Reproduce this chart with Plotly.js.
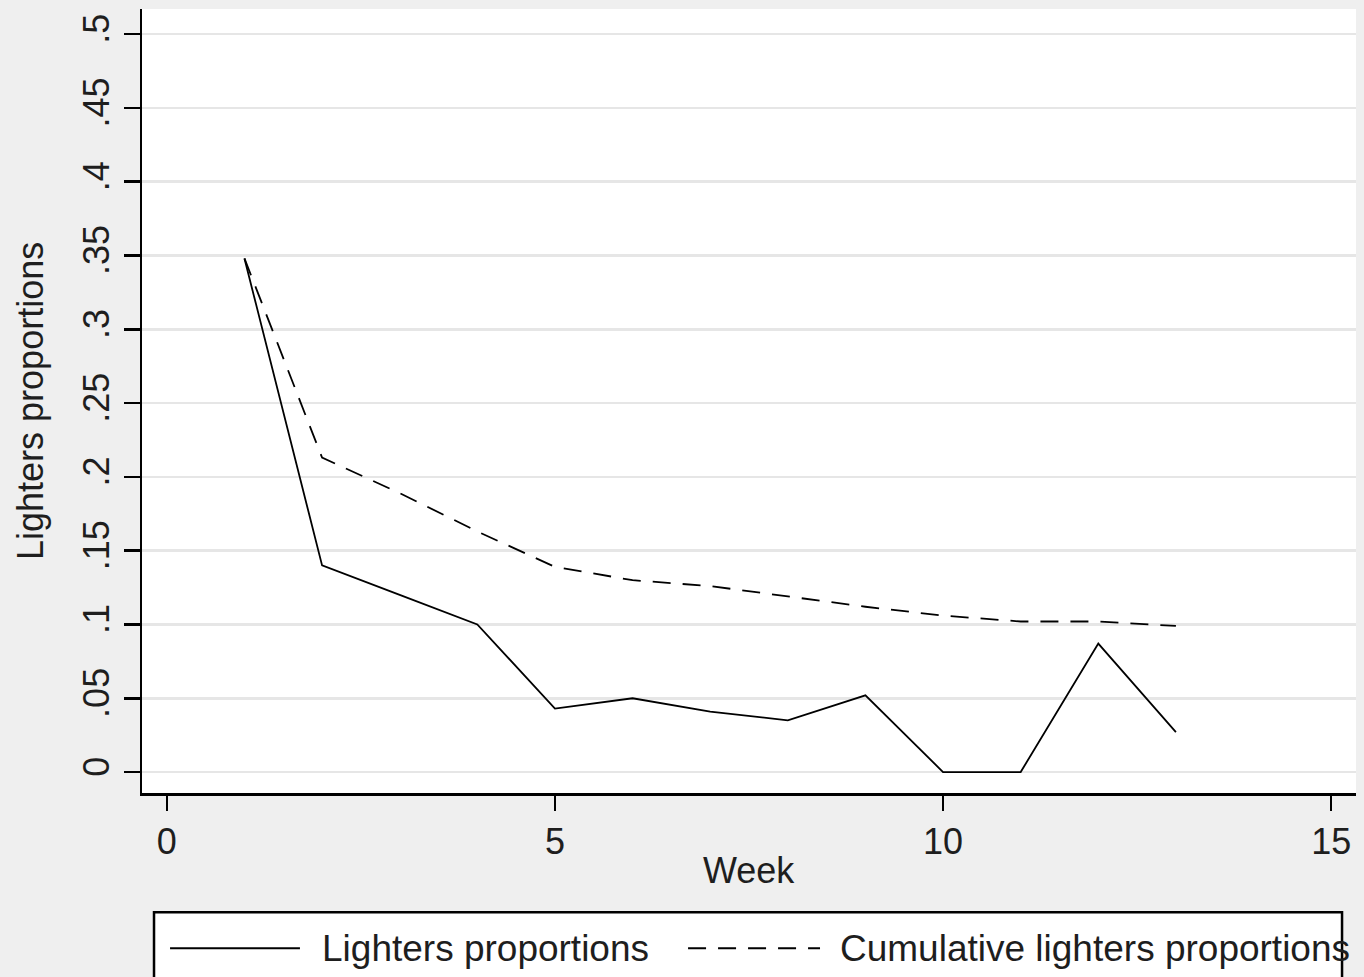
<!DOCTYPE html>
<html>
<head>
<meta charset="utf-8">
<script src="https://cdn.plot.ly/plotly-3.0.1.min.js"></script>
<style>
html,body{margin:0;padding:0;background:#efefef;}
#chart{width:1364px;height:977px;}
</style>
</head>
<body>
<div id="chart"></div>
<script>
const weeks = [1,2,3,4,5,6,7,8,9,10,11,12,13];
const lightersProportions = [0.348,0.140,0.120,0.100,0.043,0.050,0.041,0.035,0.052,0.000,0.000,0.087,0.027];
const cumulativeLighters = [0.348,0.213,0.189,0.163,0.139,0.130,0.126,0.119,0.112,0.106,0.102,0.102,0.099];
const seriesNames = ["Lighters proportions","Cumulative lighters proportions"];
const yTickVals = [0,0.05,0.1,0.15,0.2,0.25,0.3,0.35,0.4,0.45,0.5];
const yTickText = ["0",".05",".1",".15",".2",".25",".3",".35",".4",".45",".5"];
const xTickVals = [0,5,10,15];
const xTickText = ["0","5","10","15"];
const xTitle = "Week";
const yTitle = "Lighters proportions";

const FONT = "Liberation Sans, Arial, sans-serif";
const TXT = "#1e1e1e";

const traces = [
  {x: weeks, y: lightersProportions, name: seriesNames[0], type: "scatter", mode: "lines",
   line: {color: "#000", width: 1.8}, showlegend: false},
  {x: weeks, y: cumulativeLighters, name: seriesNames[1], type: "scatter", mode: "lines",
   line: {color: "#000", width: 1.8, dash: "18px,12px"}, showlegend: false}
];

const legY = -0.198;
const shapes = [
  {type:"rect", xref:"paper", yref:"paper", x0:0.0099, x1:0.9885, y0:-0.152, y1:-0.26,
   line:{color:"#000", width:2.5}, fillcolor:"#fff", layer:"above"},
  {type:"line", xref:"paper", yref:"paper", x0:0.0231, x1:0.1301, y0:legY, y1:legY,
   line:{color:"#000", width:2}},
  {type:"line", xref:"paper", yref:"paper", x0:0.4498, x1:0.5585, y0:legY, y1:legY,
   line:{color:"#000", width:2, dash:"18px,12px"}}
];
const annotations = [
  {xref:"paper", yref:"paper", x:0.1466, y:legY, xanchor:"left", yanchor:"middle",
   text: seriesNames[0], showarrow:false, font:{family:FONT, size:37, color:TXT}},
  {xref:"paper", yref:"paper", x:0.5733, y:legY, xanchor:"left", yanchor:"middle",
   text: seriesNames[1], showarrow:false, font:{family:FONT, size:37, color:TXT}},
  {xref:"paper", yref:"paper", x:0, y:0.5, xshift:-112, xanchor:"center", yanchor:"middle",
   textangle:-90, text: yTitle, showarrow:false, font:{family:FONT, size:36, color:TXT}},
  {xref:"paper", yref:"paper", x:0.5, y:0, yshift:-77, xanchor:"center", yanchor:"middle",
   text: xTitle, showarrow:false, font:{family:FONT, size:36, color:TXT}}
];

const layout = {
  width: 1364, height: 977,
  paper_bgcolor: "#efefef",
  plot_bgcolor: "#ffffff",
  margin: {l:142, r:8, t:9, b:184, pad:0},
  showlegend: false,
  xaxis: {
    range: [-0.32, 15.32],
    tickvals: xTickVals, ticktext: xTickText,
    showgrid: false, zeroline: false,
    showline: true, linecolor: "#000", linewidth: 2.5,
    ticks: "outside", ticklen: 15, tickwidth: 2.5, tickcolor: "#000",
    tickfont: {family: FONT, size: 36, color: TXT},
    automargin: false
  },
  yaxis: {
    range: [-0.0142, 0.517],
    tickvals: yTickVals, ticktext: yTickText,
    tickangle: -90,
    showgrid: true, gridcolor: "#e6e6e6", gridwidth: 2.5,
    zeroline: false,
    showline: true, linecolor: "#000", linewidth: 2.5,
    ticks: "outside", ticklen: 16, tickwidth: 2.5, tickcolor: "#000",
    tickfont: {family: FONT, size: 36, color: TXT},
    automargin: false
  },
  shapes: shapes,
  annotations: annotations
};

Plotly.newPlot("chart", traces, layout, {displayModeBar: false, staticPlot: true});
</script>
</body>
</html>
